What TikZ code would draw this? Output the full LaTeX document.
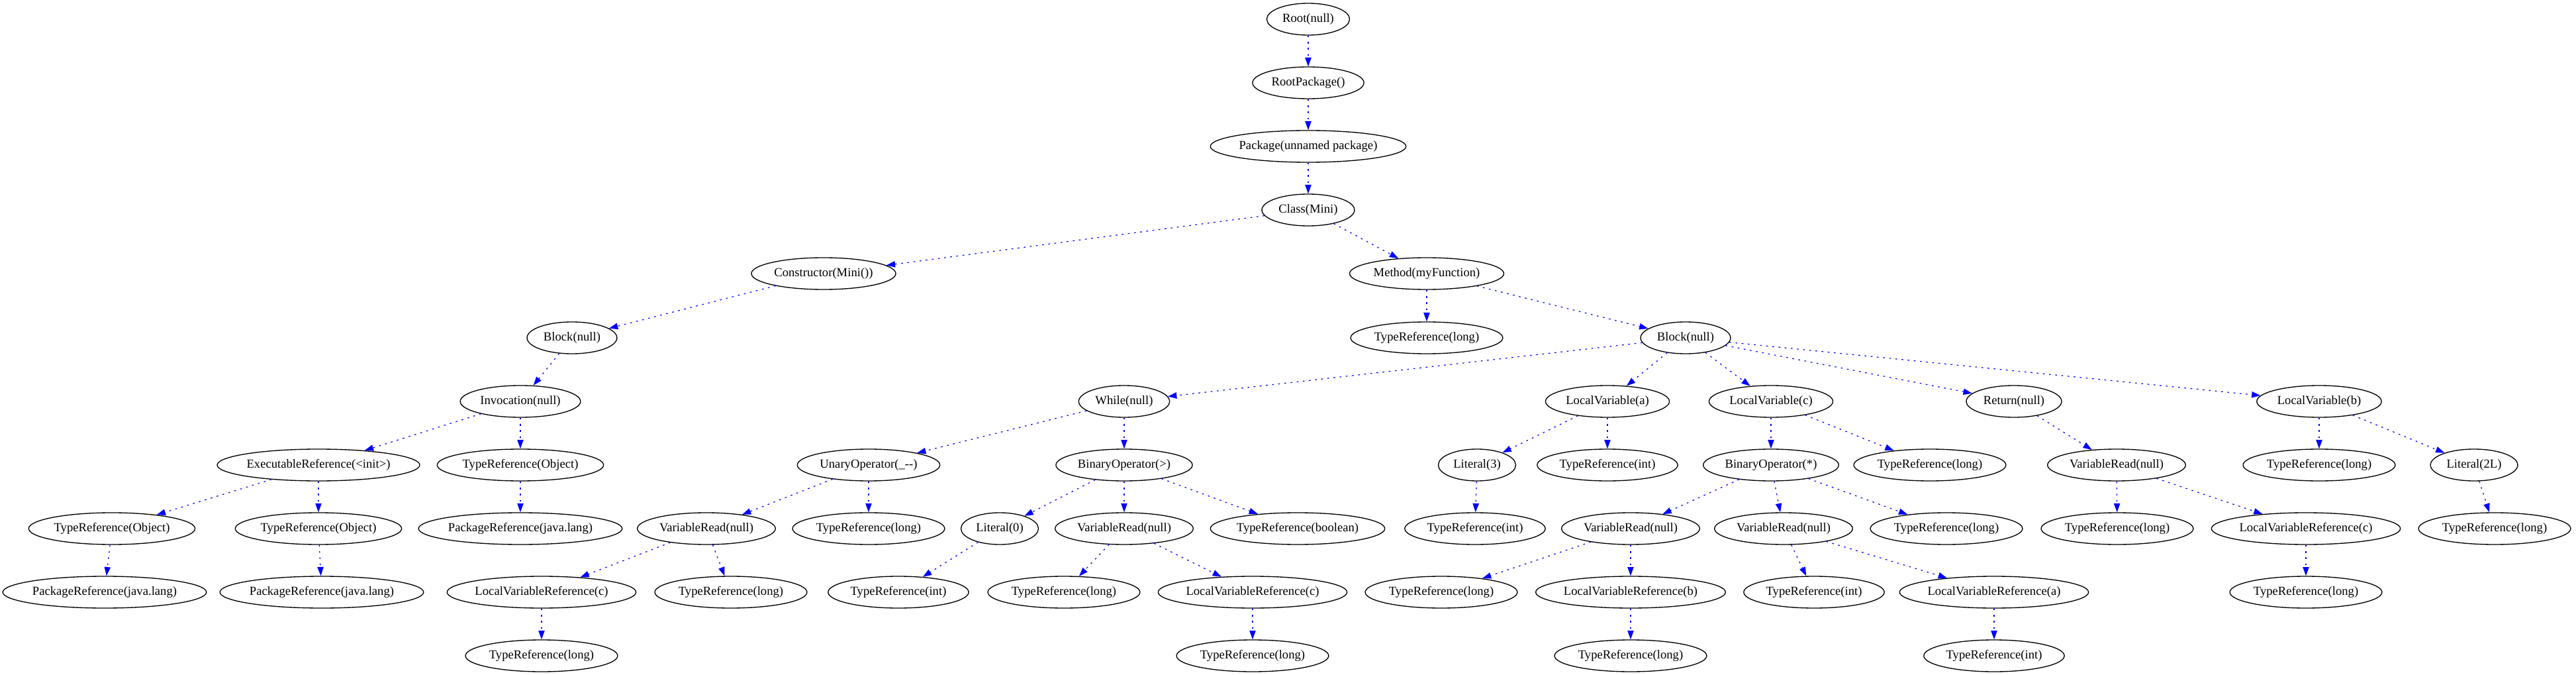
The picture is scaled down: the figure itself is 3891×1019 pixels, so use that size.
\documentclass[tikz,border=0pt]{standalone}
\usepackage{fontspec}
\setmainfont{Liberation Serif}
\usetikzlibrary{shapes.geometric,arrows.meta}
\begin{document}
\begin{tikzpicture}[x=0.75pt,y=-0.75pt,
  nd/.style={draw=black,line width=1pt,shape=ellipse,
    inner xsep={6.36pt-0.0403*\wd\pgfnodeparttextbox},inner ysep=0pt,
    minimum height=36pt,font=\fontsize{14pt}{16pt}\selectfont},
  ed/.style={draw=blue,line width=0.9pt,dash pattern=on 2pt off 5pt,
    -{Triangle[length=10pt,width=7pt]}}]
\useasboundingbox[fill=white] (0,0) rectangle (3891,1019);
% rows
\def\ra{29}\def\rb{125}\def\rc{221}\def\rd{317}\def\re{413}\def\rf{510}
\def\rg{606}\def\rh{702}\def\ri{798}\def\rj{894}\def\rk{990}
\node[nd] (root) at (1976,\ra) {Root(null)};
\node[nd] (rpkg) at (1976,\rb) {RootPackage()};
\node[nd] (pkg) at (1976,\rc) {Package(unnamed package)};
\node[nd] (cls) at (1976,\rd) {Class(Mini)};
\node[nd] (ctor) at (1244,\re) {Constructor(Mini())};
\node[nd] (meth) at (2155,\re) {Method(myFunction)};
\node[nd] (blk1) at (864,\rf) {Block(null)};
\node[nd] (mtr) at (2155,\rf) {TypeReference(long)};
\node[nd] (blk2) at (2546,\rf) {Block(null)};
\node[nd] (inv) at (786,\rg) {Invocation(null)};
\node[nd] (whl) at (1698,\rg) {While(null)};
\node[nd] (lva) at (2428,\rg) {LocalVariable(a)};
\node[nd] (lvc) at (2675,\rg) {LocalVariable(c)};
\node[nd] (ret) at (3042,\rg) {Return(null)};
\node[nd] (lvb) at (3503,\rg) {LocalVariable(b)};
\node[nd] (exr) at (481,\rh) {ExecutableReference(<init>)};
\node[nd] (tro1) at (786,\rh) {TypeReference(Object)};
\node[nd] (uop) at (1312,\rh) {UnaryOperator(\_-{}-)};
\node[nd] (bgt) at (1698,\rh) {BinaryOperator(>)};
\node[nd] (lit3) at (2231,\rh) {Literal(3)};
\node[nd] (tia) at (2428,\rh) {TypeReference(int)};
\node[nd] (bmul) at (2675,\rh) {BinaryOperator(*)};
\node[nd] (tlc) at (2915,\rh) {TypeReference(long)};
\node[nd] (vrr) at (3197,\rh) {VariableRead(null)};
\node[nd] (tlb) at (3503,\rh) {TypeReference(long)};
\node[nd] (lit2) at (3737,\rh) {Literal(2L)};
\node[nd] (tro2) at (169,\ri) {TypeReference(Object)};
\node[nd] (tro3) at (481,\ri) {TypeReference(Object)};
\node[nd] (pr1) at (786,\ri) {PackageReference(java.lang)};
\node[nd] (vru) at (1067,\ri) {VariableRead(null)};
\node[nd] (tlu) at (1312,\ri) {TypeReference(long)};
\node[nd] (lit0) at (1510,\ri) {Literal(0)};
\node[nd] (vrg) at (1698,\ri) {VariableRead(null)};
\node[nd] (tbool) at (1960,\ri) {TypeReference(boolean)};
\node[nd] (ti3) at (2228,\ri) {TypeReference(int)};
\node[nd] (vrm1) at (2463,\ri) {VariableRead(null)};
\node[nd] (vrm2) at (2694,\ri) {VariableRead(null)};
\node[nd] (tlm) at (2940,\ri) {TypeReference(long)};
\node[nd] (tlr) at (3198,\ri) {TypeReference(long)};
\node[nd] (lvrr) at (3483,\ri) {LocalVariableReference(c)};
\node[nd] (tl2) at (3768,\ri) {TypeReference(long)};
\node[nd] (pr2) at (158,\rj) {PackageReference(java.lang)};
\node[nd] (pr3) at (486,\rj) {PackageReference(java.lang)};
\node[nd] (lvru) at (818,\rj) {LocalVariableReference(c)};
\node[nd] (tlvu) at (1104,\rj) {TypeReference(long)};
\node[nd] (ti0) at (1357,\rj) {TypeReference(int)};
\node[nd] (tlvg) at (1607,\rj) {TypeReference(long)};
\node[nd] (lvrg) at (1892,\rj) {LocalVariableReference(c)};
\node[nd] (tlv1) at (2177,\rj) {TypeReference(long)};
\node[nd] (lvrb) at (2463,\rj) {LocalVariableReference(b)};
\node[nd] (tiv2) at (2740,\rj) {TypeReference(int)};
\node[nd] (lvra) at (3012,\rj) {LocalVariableReference(a)};
\node[nd] (tlrr) at (3483,\rj) {TypeReference(long)};
\node[nd] (tlu2) at (818,\rk) {TypeReference(long)};
\node[nd] (tlg2) at (1892,\rk) {TypeReference(long)};
\node[nd] (tlb2) at (2463,\rk) {TypeReference(long)};
\node[nd] (tia2) at (3012,\rk) {TypeReference(int)};
% edges
\foreach \a/\b in {root/rpkg,rpkg/pkg,pkg/cls,cls/ctor,cls/meth,ctor/blk1,blk1/inv,
  inv/exr,inv/tro1,exr/tro2,exr/tro3,tro1/pr1,tro2/pr2,tro3/pr3,
  meth/mtr,meth/blk2,blk2/whl,blk2/lva,blk2/lvc,blk2/ret,blk2/lvb,
  whl/uop,whl/bgt,uop/vru,uop/tlu,vru/lvru,vru/tlvu,lvru/tlu2,
  bgt/lit0,bgt/vrg,bgt/tbool,lit0/ti0,vrg/tlvg,vrg/lvrg,lvrg/tlg2,
  lva/lit3,lva/tia,lit3/ti3,lvc/bmul,lvc/tlc,bmul/vrm1,bmul/vrm2,bmul/tlm,
  vrm1/tlv1,vrm1/lvrb,lvrb/tlb2,vrm2/tiv2,vrm2/lvra,lvra/tia2,
  ret/vrr,vrr/tlr,vrr/lvrr,lvrr/tlrr,lvb/tlb,lvb/lit2,lit2/tl2}
  \draw[ed] (\a) -- (\b);
\end{tikzpicture}
\end{document}
